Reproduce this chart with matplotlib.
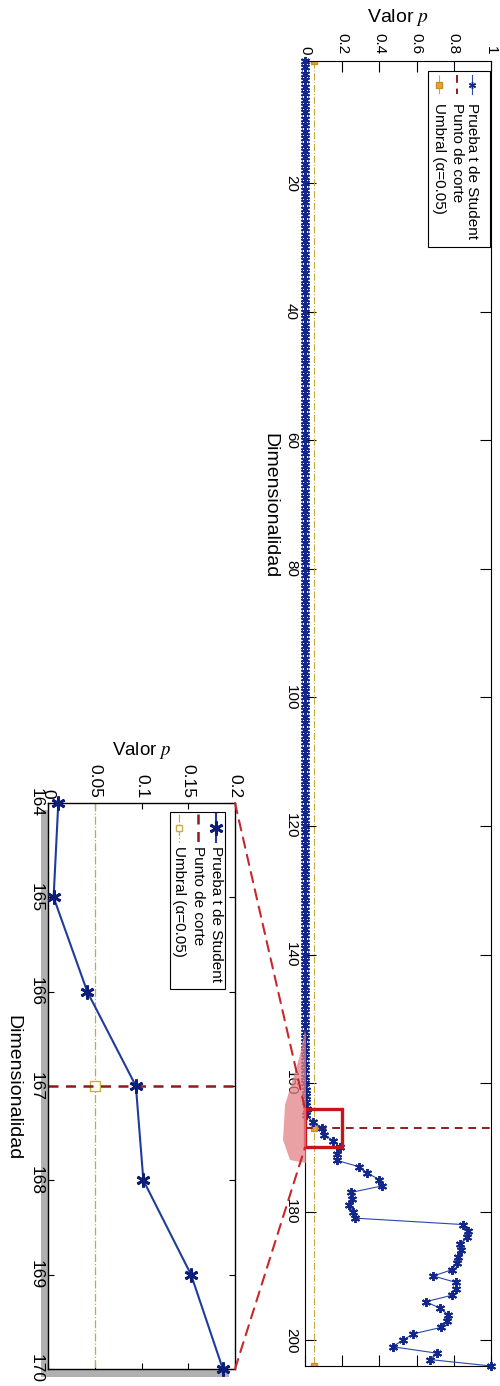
import matplotlib.pyplot as plt
import numpy as np
from matplotlib.lines import Line2D
from matplotlib.patches import Rectangle, Polygon, ConnectionPatch
from matplotlib.transforms import Affine2D

plt.rcParams['font.family'] = ['Liberation Sans', 'DejaVu Sans']
plt.rcParams['mathtext.fontset'] = 'stix'

W, H = 500, 1386

# p-value of the t test for each dimensionality 1..204
dims = np.arange(1, 205)
p_1_160 = [
    0, 0, 0, 0, 0, 0, 0, 0, 0, 0, 0, 0, 0, 0, 0, 0, 0, 0, 0, 0,
    0, 0, 0, 0, 0, 0, 0, 0, 0, 0, 0, 0, 0, 0, 0, 0, 0, 0, 0, 0,
    0, 0, 0, 0, 0, 0, 0, 0, 0, 0, 0, 0, 0, 0, 0, 0, 0, 0, 0, 0,
    0, 0, 0, 0, 0, 0, 0, 0, 0, 0, 0, 0, 0, 0, 0, 0, 0, 0, 0, 0,
    0, 0, 0, 0, 0, 0, 0, 0, 0, 0, 0, 0, 0, 0, 0, 0, 0, 0, 0, 0,
    0, 0, 0, 0, 0, 0, 0, 0, 0, 0, 0, 0, 0, 0, 0, 0, 0, 0, 0, 0,
    0, 0, 0, 0, 0, 0, 0, 0, 0, 0, 0, 0, 0, 0, 0, 0, 0, 0, 0, 0,
    0, 0, 0, 0, 0, 0, 0, 0, 0, 0, 0, 0, 0, 0, 0, 0, 0, 0, 0, 0,
]
p_161_204 = [
    0.003, 0.005, 0.008, 0.011, 0.006, 0.042, 0.094, 0.102, 0.153, 0.187,
    0.174, 0.170, 0.290, 0.335, 0.400, 0.412, 0.247, 0.251, 0.237, 0.260,
    0.269, 0.851, 0.878, 0.869, 0.833, 0.839, 0.824, 0.815, 0.792, 0.690,
    0.812, 0.810, 0.789, 0.649, 0.726, 0.767, 0.762, 0.731, 0.582, 0.525,
    0.471, 0.708, 0.672, 1.000,
]
p_values = np.array(p_1_160 + p_161_204, dtype=float)

umbral = 0.05      # alpha
corte = 167        # cut point
zoom_dims = (164, 170)
zoom_p = (0.0, 0.2)

main_xticks = [0, 0.2, 0.4, 0.6, 0.8, 1]
main_xlabels = ['0', '0.2', '0.4', '0.6', '0.8', '1']
main_yticks = [20, 40, 60, 80, 100, 120, 140, 160, 180, 200]
in_xticks = [0, 0.05, 0.1, 0.15, 0.2]
in_xlabels = ['0', '0.05', '0.1', '0.15', '0.2']
in_yticks = [164, 165, 166, 167, 168, 169, 170]

leg_labels = ['Prueba t de Student', 'Punto de corte', 'Umbral (\u03b1=0.05)']

blue = '#2a48a8'
blue_dark = '#13278a'
red_dark = '#8c1c1c'
yellow = '#c8aa3c'
star = (6, 2, 0)

fig = plt.figure(figsize=(W / 100, H / 100), dpi=100)
# pixel coords, origin top-left
pix = Affine2D().scale(1 / W, -1 / H).translate(0, 1) + fig.transFigure


def px_rect(x0, y0, x1, y1):
    return [x0 / W, 1 - y1 / H, (x1 - x0) / W, (y1 - y0) / H]


ax = fig.add_axes(px_rect(305, 61, 491, 1366))
ax_in = fig.add_axes(px_rect(48, 803, 235, 1369))

# ---- main panel (rotated: p horizontal, dimension downward)
ax.plot(p_values, dims, color=blue, lw=0.8, marker=star, ms=6.5,
        mec=blue_dark, mew=1.4, zorder=3, clip_on=False)
ax.plot(np.full(dims.size, umbral), dims, color=yellow, lw=0.8, ls='-.',
        marker='s', ms=4, mfc='#e8a23a', mec='#c89020',
        markevery=[0, corte - 1, dims.size - 1], zorder=2)
ax.plot([0, 1], [corte, corte], color=red_dark, lw=1.4, ls=(0, (4, 3)), zorder=2)
ax.add_patch(Rectangle((zoom_p[0], zoom_dims[0]), zoom_p[1] - zoom_p[0],
                       zoom_dims[1] - zoom_dims[0], fill=False, ec='#c4161c',
                       lw=2.4, clip_on=False, zorder=6))

ax.set_xlim(0, 1)
ax.set_ylim(dims[-1], dims[0])
ax.xaxis.tick_top()
ax.set_xticks(main_xticks, main_xlabels, rotation=-90)
ax.set_yticks(main_yticks, [str(t) for t in main_yticks], rotation=-90, va='center')
ax.tick_params(direction='in', length=8, width=0.8, top=True, bottom=True,
               left=True, right=True, labelsize=11, pad=5,
               labeltop=True, labelbottom=False)
for s in ax.spines.values():
    s.set_linewidth(0.8)
ax.xaxis.set_label_position('top')
ax.set_xlabel('Valor $p$', fontsize=14, va='center')
ax.xaxis.set_label_coords(0.5, 1.033)
ax.set_ylabel('Dimensionalidad', fontsize=14, rotation=-90, va='center',
              ha='center', rotation_mode='default')
ax.yaxis.set_label_coords(-0.188, 0.659)

# ---- zoomed inset
sel = (dims >= zoom_dims[0]) & (dims <= zoom_dims[1])
ax_in.plot(p_values[sel], dims[sel], color='#1f3c9c', lw=1.5, marker=star,
           ms=10, mec='#0c1e78', mew=2, zorder=3, clip_on=False)
ax_in.plot(np.full(sel.sum(), umbral), dims[sel], color=yellow, lw=0.9, ls='-.',
           marker='s', ms=7, mfc='white', mec='#c8b040',
           markevery=[corte - zoom_dims[0]], zorder=2)
ax_in.plot(list(zoom_p), [corte, corte], color=red_dark, lw=1.8,
           ls=(0, (4, 3)), zorder=2)
ax_in.set_xlim(*zoom_p)
ax_in.set_ylim(zoom_dims[1], zoom_dims[0])
ax_in.xaxis.tick_top()
ax_in.set_xticks(in_xticks, in_xlabels, rotation=-90)
ax_in.set_yticks(in_yticks, [str(t) for t in in_yticks], rotation=-90, va='center')
ax_in.tick_params(direction='in', length=4.5, width=0.8, top=True, bottom=True,
                  left=True, right=True, labelsize=12.5, pad=3.5,
                  labeltop=True, labelbottom=False)
for s in ax_in.spines.values():
    s.set_linewidth(1.0)
ax_in.xaxis.set_label_position('top')
ax_in.set_xlabel('Valor $p$', fontsize=13.5, va='center')
ax_in.xaxis.set_label_coords(0.5, 1.092)
ax_in.set_ylabel('Dimensionalidad', fontsize=14, rotation=-90, va='center',
                 ha='center', rotation_mode='default')
ax_in.yaxis.set_label_coords(-0.19, 0.498)

# drop shadow behind the inset
fig.add_artist(Rectangle((41, 810), 188, 567, transform=pix, fc='#b0b0b0',
                         ec='none', zorder=-1))

# pink bleed left of the zoom box
fig.add_artist(Polygon([(305, 1030), (300, 1055), (292, 1082), (285, 1105),
                        (283, 1140), (290, 1160), (306, 1163), (306, 1035)],
                       closed=True, transform=pix, fc='#e38286', ec='none',
                       alpha=0.75, zorder=1))

# dashed connectors inset -> zoom box
for d in zoom_dims:
    con = ConnectionPatch(xyA=(zoom_p[1], d), coordsA=ax_in.transData,
                          xyB=(zoom_p[0], d), coordsB=ax.transData,
                          color='#c8282c', lw=1.5, ls=(0, (5, 3.5)), zorder=3)
    fig.add_artist(con)


def rot_legend(box, cols, h_top, h_bot, text_top, styles, fs):
    x0, y0, x1, y1 = box
    fig.add_artist(Rectangle((x0, y0), x1 - x0, y1 - y0, transform=pix,
                             fc='white', ec='black', lw=0.8, zorder=4))
    mid = (h_top + h_bot) / 2
    for x, label, st in zip(cols, leg_labels, styles):
        fig.add_artist(Line2D([x, x, x], [h_top, mid, h_bot], transform=pix,
                              markevery=[1], zorder=5, **st))
        fig.text(x, text_top, label, transform=pix, rotation=-90, ha='center',
                 va='top', fontsize=fs, zorder=6)


rot_legend((428, 71, 490, 247), [472, 457, 439], 75, 94, 103, [
    dict(color=blue, lw=0.8, marker=star, ms=5, mec=blue_dark, mew=1.0),
    dict(color=red_dark, lw=1.4, ls=(0, (4, 3))),
    dict(color=yellow, lw=0.8, ls='-.', marker='s', ms=4, mfc='#e8a23a', mec='#c89020'),
], 11)

rot_legend((170, 812, 225, 989), [216, 198, 179], 814, 842, 846, [
    dict(color='#1f3c9c', lw=1.5, marker=star, ms=10, mec='#0c1e78', mew=2),
    dict(color=red_dark, lw=1.8, ls=(0, (4, 3))),
    dict(color=yellow, lw=0.9, ls='-.', marker='s', ms=5, mfc='white', mec='#c8b040'),
], 11)

fig.savefig('out.png', dpi=100)
